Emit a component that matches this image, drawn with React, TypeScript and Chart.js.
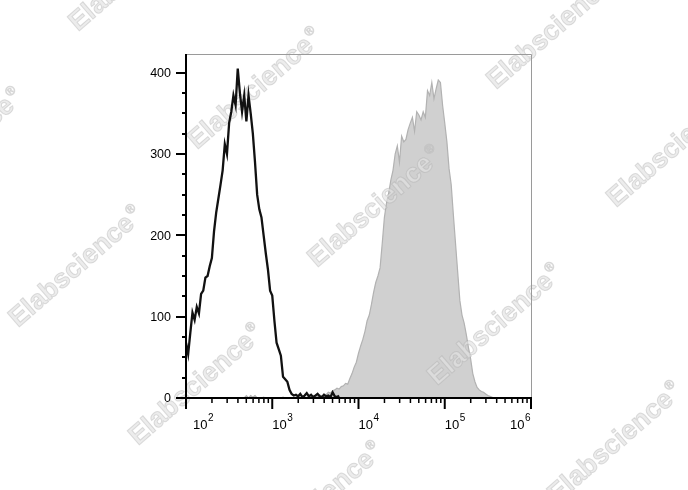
import React, { useEffect, useRef } from "react";
import { Chart, registerables } from "chart.js";

Chart.register(...registerables);

// Channel mapping: channel 0 sits at 10^2, each channel is 0.025 decade wide
const CHANNEL_START_LOG = 2;
const CHANNEL_STEP_LOG = 0.025;

// Isotype / unstained control (black open histogram), channels 0..71
const blackCounts = [
  68, 54, 80, 105, 96, 112, 104, 128, 132, 148, 150, 162, 172, 205, 228, 245,
  262, 280, 312, 300, 338, 352, 372, 360, 405, 375, 352, 372, 340, 372, 350, 325,
  290, 250, 232, 222, 200, 178, 158, 132, 126, 95, 68, 60, 52, 26, 23, 20,
  10, 5, 3, 4, 2, 5, 1, 3, 6, 2, 4, 1, 3, 5, 2, 1,
  4, 2, 3, 1, 7, 2, 1, 3,
];

// Stained sample (gray filled histogram), starting at channel 20
const grayStartChannel = 20;
const grayCounts = [
  0, 0, 0, 0, 0, 0, 0, 0, 3, 0, 3, 1, 3, 0, 0, 0,
  1, 0, 0, 0, 0, 0, 0, 0, 0, 1, 0, 0, 0, 0, 0, 0,
  0, 0, 1, 0,
  1, 2, 0, 3, 1, 2, 4, 2, 5, 4, 7, 6, 9, 10, 12, 11,
  14, 15, 18, 17, 24, 30, 38, 44, 55, 64, 72, 82, 95, 102, 115, 130,
  142, 150, 160, 190, 222, 240, 252, 268, 280, 300, 310, 290, 322, 315, 318, 330,
  338, 345, 328, 352, 348, 342, 352, 345, 378, 372, 388, 368, 380, 391, 388, 360,
  338, 315, 282, 262, 225, 190, 155, 120, 102, 92, 78, 62, 48, 30, 20, 13,
  10, 8, 7, 5, 3, 2, 1, 0,
];

const X_MIN = 100;
const X_MAX = 1000000;
const Y_MAX = 423;
const yTickValues = [0, 100, 200, 300, 400];
const yMinorValues = [25, 50, 75, 125, 150, 175, 225, 250, 275, 325, 350, 375];
const xDecadeExponents = [2, 3, 4, 5, 6];
const xMinorMultipliers = [2, 3, 4, 5, 6, 7, 8, 9];

const watermarkText = "Elabscience";
const watermarkPositions: [number, number][] = [
  [78, 32], [197, 150], [317, 268], [437, 386], [557, 504],
  [-102, 210], [18, 328], [138, 446], [258, 564],
  [377, -28], [496, 90], [616, 208],
];

const chToX = (ch: number) => Math.pow(10, CHANNEL_START_LOG + ch * CHANNEL_STEP_LOG);

const FONT = "'Liberation Sans', Arial, Helvetica, sans-serif";

const watermarkPlugin = {
  id: "watermark",
  afterDatasetDraw(chart: any, args: any) {
    if (args.index !== 1) return;
    const ctx = chart.ctx as CanvasRenderingContext2D;
    ctx.save();
    for (const [x, y] of watermarkPositions) {
      ctx.save();
      ctx.translate(x, y);
      ctx.rotate((-41 * Math.PI) / 180);
      ctx.font = `bold 27px ${FONT}`;
      ctx.textBaseline = "alphabetic";
      ctx.textAlign = "left";
      ctx.fillStyle = "rgba(226,226,226,0.66)";
      ctx.strokeStyle = "rgba(160,160,160,0.32)";
      ctx.lineWidth = 1;
      ctx.fillText(watermarkText, 0, 0);
      ctx.strokeText(watermarkText, 0, 0);
      const w = ctx.measureText(watermarkText).width;
      ctx.font = `13px ${FONT}`;
      ctx.fillText("®", w + 2, -12);
      ctx.strokeText("®", w + 2, -12);
      ctx.restore();
    }
    ctx.restore();
  },
};

const axesPlugin = {
  id: "customAxes",
  afterDraw(chart: any) {
    const ctx = chart.ctx as CanvasRenderingContext2D;
    const { left, right, top, bottom } = chart.chartArea;
    const xs = chart.scales.x;
    const ys = chart.scales.y;
    ctx.save();

    // top & right frame (gray, thin)
    ctx.strokeStyle = "#9a9a9a";
    ctx.lineWidth = 1;
    ctx.beginPath();
    ctx.moveTo(left, top + 0.5);
    ctx.lineTo(right + 0.5, top + 0.5);
    ctx.lineTo(right + 0.5, bottom);
    ctx.stroke();

    // left and bottom axes (black, thick)
    ctx.strokeStyle = "#000";
    ctx.lineWidth = 2;
    ctx.beginPath();
    ctx.moveTo(left, top);
    ctx.lineTo(left, bottom + 1);
    ctx.moveTo(left - 1, bottom);
    ctx.lineTo(right + 1, bottom);
    ctx.stroke();

    // y ticks
    ctx.lineWidth = 2;
    for (const v of yTickValues) {
      const py = Math.round(ys.getPixelForValue(v));
      ctx.beginPath();
      ctx.moveTo(left - 10, py);
      ctx.lineTo(left, py);
      ctx.stroke();
    }
    for (const v of yMinorValues) {
      const py = Math.round(ys.getPixelForValue(v));
      ctx.beginPath();
      ctx.moveTo(left - 4, py);
      ctx.lineTo(left, py);
      ctx.stroke();
    }
    ctx.fillStyle = "#000";
    ctx.font = `12.5px ${FONT}`;
    ctx.textAlign = "right";
    ctx.textBaseline = "middle";
    for (const v of yTickValues) {
      const py = ys.getPixelForValue(v);
      ctx.fillText(String(v), left - 15, py + 1);
    }

    // x ticks
    for (const e of xDecadeExponents) {
      const px = xs.getPixelForValue(Math.pow(10, e));
      ctx.lineWidth = 2;
      ctx.beginPath();
      ctx.moveTo(px, bottom);
      ctx.lineTo(px, bottom + 11);
      ctx.stroke();
      if (e < 6) {
        ctx.lineWidth = 1.5;
        for (const m of xMinorMultipliers) {
          const mx = xs.getPixelForValue(m * Math.pow(10, e));
          ctx.beginPath();
          ctx.moveTo(mx, bottom);
          ctx.lineTo(mx, bottom + 5);
          ctx.stroke();
        }
      }
    }
    // x labels 10^n
    ctx.textAlign = "left";
    ctx.textBaseline = "alphabetic";
    for (const e of xDecadeExponents) {
      const px = xs.getPixelForValue(Math.pow(10, e));
      ctx.font = `13px ${FONT}`;
      const wBase = ctx.measureText("10").width;
      ctx.font = `10px ${FONT}`;
      const wSup = ctx.measureText(String(e)).width;
      let lx = px;
      if (lx < left + 7) lx = left + 7;
      if (lx + wBase + wSup > right) lx = right - wBase - wSup - 1;
      ctx.font = `13px ${FONT}`;
      ctx.fillText("10", lx, bottom + 31);
      ctx.font = `10px ${FONT}`;
      ctx.fillText(String(e), lx + wBase + 0.5, bottom + 23);
    }
    ctx.restore();
  },
};

export default function App() {
  const canvasRef = useRef<HTMLCanvasElement | null>(null);

  useEffect(() => {
    if (!canvasRef.current) return;
    const blackData = blackCounts.map((c, i) => ({ x: chToX(i), y: c }));
    const grayData = [
      { x: X_MIN, y: 0 },
      ...grayCounts.map((c, i) => ({ x: chToX(grayStartChannel + i), y: c })),
      { x: X_MAX, y: 0 },
    ];
    const chart = new Chart(canvasRef.current, {
      type: "line",
      data: {
        datasets: [
          {
            data: blackData,
            borderColor: "#111111",
            borderWidth: 2.3,
            pointRadius: 0,
            fill: false,
            tension: 0,
            borderJoinStyle: "miter",
          },
          {
            data: grayData,
            borderColor: "#b2b2b2",
            backgroundColor: "#d0d0d0",
            borderWidth: 1.2,
            pointRadius: 0,
            fill: "origin",
            tension: 0,
          },
        ],
      },
      options: {
        animation: false,
        responsive: false,
        devicePixelRatio: 1,
        layout: { padding: { left: 186, right: 157, top: 54, bottom: 92 } },
        plugins: {
          legend: { display: false },
          tooltip: { enabled: false },
          title: { display: false },
        },
        scales: {
          x: { type: "logarithmic", min: X_MIN, max: X_MAX, display: false },
          y: { type: "linear", min: 0, max: Y_MAX, display: false },
        },
      },
      plugins: [watermarkPlugin, axesPlugin],
    } as any);
    return () => chart.destroy();
  }, []);

  return (
    <div style={{ position: "absolute", left: 0, top: 0, width: 688, height: 490, background: "#fff" }}>
      <canvas ref={canvasRef} width={688} height={490} />
    </div>
  );
}
